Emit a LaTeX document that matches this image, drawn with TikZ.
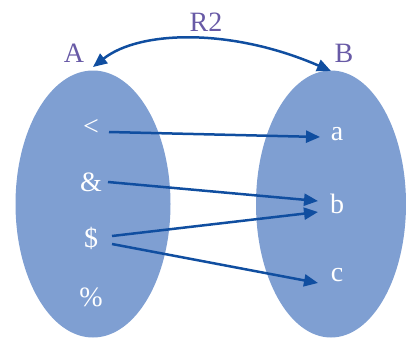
\documentclass[tikz,border=0pt]{standalone}
\usepackage{fontspec}
\setmainfont{Liberation Serif}
\usetikzlibrary{arrows.meta,shapes.geometric}
\definecolor{setfill}{RGB}{127,159,210}
\definecolor{arrowblue}{RGB}{16,78,160}
\definecolor{labpurple}{RGB}{104,90,166}
\tikzset{
  setshape/.style={ellipse, fill=setfill, draw=none, minimum width=155pt, minimum height=267pt, inner sep=0pt},
  elem/.style={text=white, font=\fontsize{28}{32}\selectfont, inner sep=0pt},
  setlabel/.style={text=labpurple, font=\fontsize{28}{32}\selectfont, inner sep=0pt},
  maparrow/.style={draw=arrowblue, line width=2.5pt, -{Triangle[length=14pt,width=12pt]}},
  relarrow/.style={draw=arrowblue, line width=2.5pt, {Triangle[length=14pt,width=12pt]}-{Triangle[length=14pt,width=12pt]}}
}
\begin{document}
\begin{tikzpicture}[x=1pt,y=-1pt]
\useasboundingbox (0,0) rectangle (406,340);
\node[setshape] (SA) at (93,204) {};
\node[setshape, minimum width=150pt] (SB) at (331,204) {};
\node[elem] (lt) at (91,127) {<};
\node[elem] (amp) at (91,182) {\&};
\node[elem] (dol) at (91,238) {\$};
\node[elem] (pct) at (91,297) {\%};
\node[elem] (a) at (337,134) {a};
\node[elem] (b) at (337,204) {b};
\node[elem] (c) at (337,275) {c};
\node[setlabel] (A) at (74,53) {A};
\node[setlabel] (B) at (344,53) {B};
\node[setlabel] (R) at (206,22) {R2};
\coordinate (tipA) at (93,67);
\coordinate (tipB) at (331,71);
\draw[relarrow] (tipA) .. controls (140,30) and (232,28) .. (tipB);
\draw[maparrow] ([shift={(18,5)}]lt.center) -- ([shift={(-17,3)}]a.center);
\draw[maparrow] ([shift={(17,0)}]amp.center) -- ([shift={(-19,-3)}]b.center);
\draw[maparrow] ([shift={(21,-2)}]dol.center) -- ([shift={(-19,8)}]b.center);
\draw[maparrow] ([shift={(21,6)}]dol.center) -- ([shift={(-19,8)}]c.center);
\end{tikzpicture}
\end{document}
